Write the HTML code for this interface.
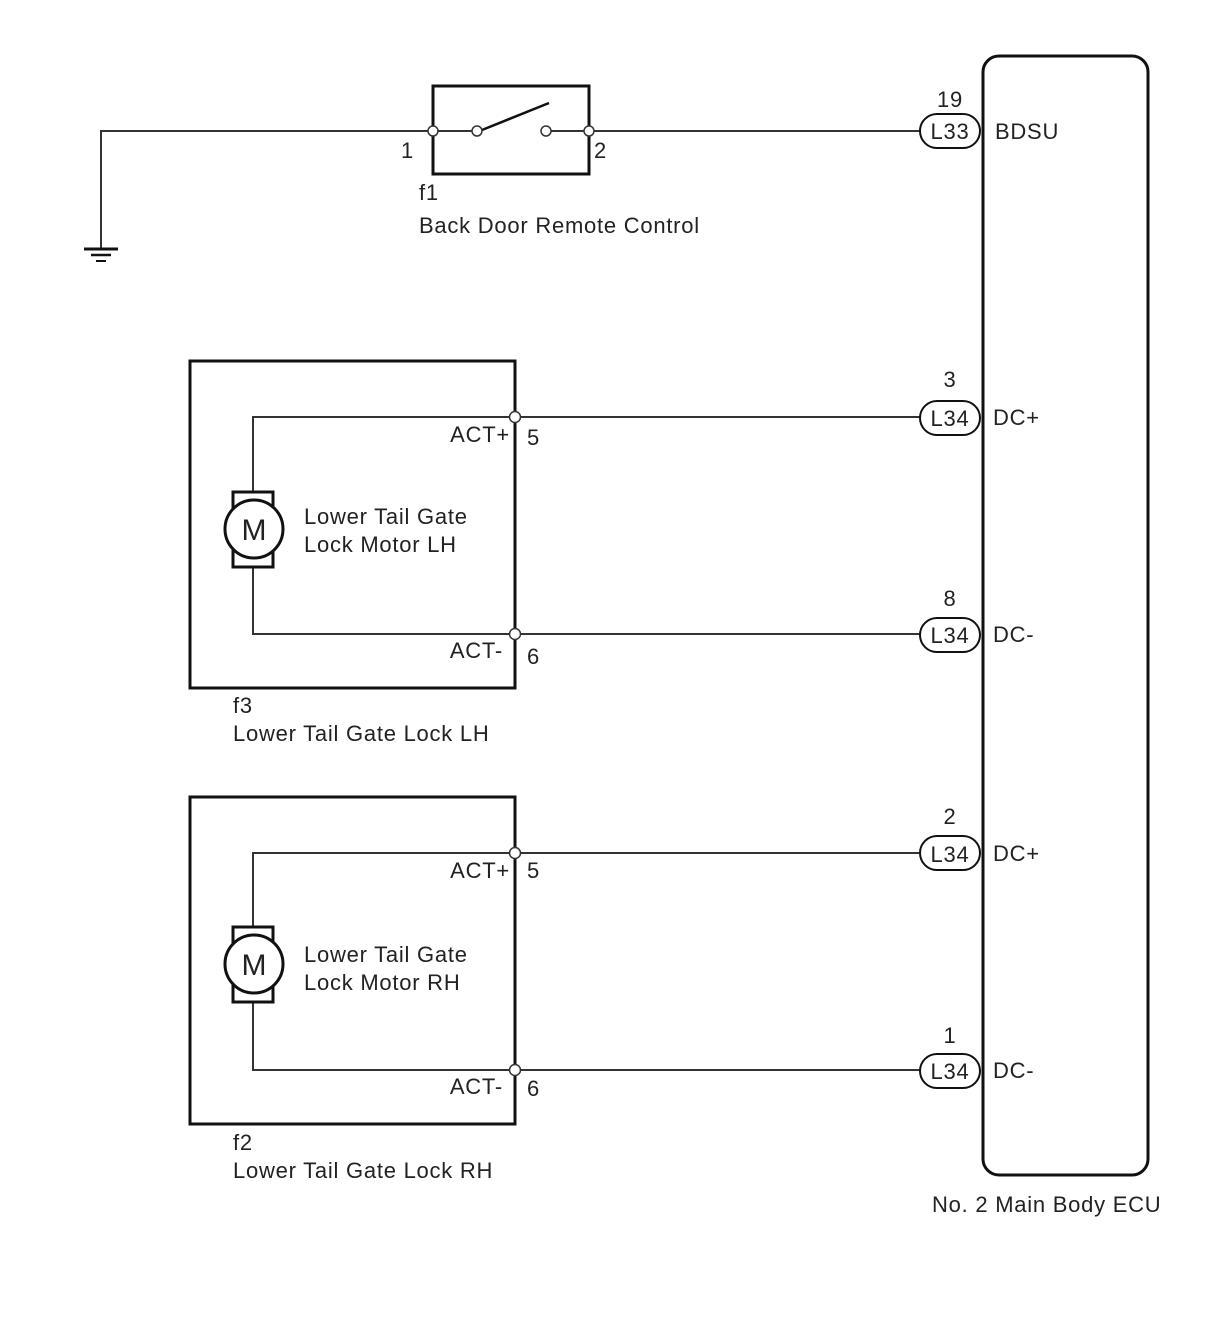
<!DOCTYPE html>
<html><head><meta charset="utf-8"><style>
html,body{margin:0;padding:0;background:#fff;}
svg{display:block}
text{font-family:"Liberation Sans",Arial,sans-serif;font-size:22px;letter-spacing:0.75px;fill:#222}
</style></head><body>
<svg width="1210" height="1328" viewBox="0 0 1210 1328" xmlns="http://www.w3.org/2000/svg">
<g stroke="#333" fill="none" stroke-width="2">
<polyline points="433,131 101,131 101,248"/>
<line x1="84" y1="249" x2="118" y2="249" stroke-width="3" stroke="#111"/>
<line x1="91" y1="255" x2="111" y2="255" stroke-width="2.5" stroke="#111"/>
<line x1="96" y1="261" x2="106" y2="261" stroke-width="2" stroke="#111"/>
<rect x="433" y="86" width="156" height="88" stroke-width="3" stroke="#111"/>
<line x1="433" y1="131" x2="477" y2="131"/>
<line x1="482" y1="130" x2="549" y2="103" stroke-width="2.5" stroke="#111"/>
<line x1="550" y1="131" x2="589" y2="131"/>
<line x1="589" y1="131" x2="920" y2="131"/>
<rect x="983" y="56" width="165" height="1119" rx="16" stroke-width="3" stroke="#111"/>
<rect x="190" y="361" width="325" height="327" stroke-width="3" stroke="#111"/>
<polyline points="515,417 253,417 253,493"/>
<polyline points="515,634 253,634 253,566"/>
<line x1="515" y1="417" x2="920" y2="417"/>
<line x1="515" y1="634" x2="920" y2="634"/>
<rect x="233" y="492" width="40" height="75" stroke-width="3" stroke="#111"/>
<circle cx="254" cy="529" r="29" fill="#fff" stroke-width="3" stroke="#111"/>
<rect x="190" y="797" width="325" height="327" stroke-width="3" stroke="#111"/>
<polyline points="515,853 253,853 253,928"/>
<polyline points="515,1070 253,1070 253,1002"/>
<line x1="515" y1="853" x2="920" y2="853"/>
<line x1="515" y1="1070" x2="920" y2="1070"/>
<rect x="233" y="927" width="40" height="75" stroke-width="3" stroke="#111"/>
<circle cx="254" cy="964" r="29" fill="#fff" stroke-width="3" stroke="#111"/>
<rect x="920" y="114" width="60" height="34" rx="17" fill="#fff" stroke="#111"/>
<rect x="920" y="401" width="60" height="34" rx="17" fill="#fff" stroke="#111"/>
<rect x="920" y="618" width="60" height="34" rx="17" fill="#fff" stroke="#111"/>
<rect x="920" y="836" width="60" height="34" rx="17" fill="#fff" stroke="#111"/>
<rect x="920" y="1054" width="60" height="34" rx="17" fill="#fff" stroke="#111"/>
<g fill="#fff" stroke="#333" stroke-width="1.5">
<circle cx="433" cy="131" r="5"/><circle cx="589" cy="131" r="5"/>
<circle cx="477" cy="131" r="5"/><circle cx="546" cy="131" r="5"/>
<circle cx="515" cy="417" r="5.5"/><circle cx="515" cy="634" r="5.5"/>
<circle cx="515" cy="853" r="5.5"/><circle cx="515" cy="1070" r="5.5"/>
</g>
</g>
<text x="254" y="540" text-anchor="middle" style="font-size:30px;letter-spacing:0">M</text>
<text x="254" y="975" text-anchor="middle" style="font-size:30px;letter-spacing:0">M</text>
<text x="401" y="158">1</text><text x="594" y="158">2</text>
<text x="419" y="200">f1</text>
<text x="419" y="233">Back Door Remote Control</text>
<text x="950" y="139" text-anchor="middle">L33</text>
<text x="950" y="107" text-anchor="middle">19</text>
<text x="995" y="139">BDSU</text>
<text x="950" y="426" text-anchor="middle">L34</text>
<text x="950" y="387" text-anchor="middle">3</text>
<text x="993" y="425">DC+</text>
<text x="950" y="643" text-anchor="middle">L34</text>
<text x="950" y="606" text-anchor="middle">8</text>
<text x="993" y="642">DC-</text>
<text x="950" y="862" text-anchor="middle">L34</text>
<text x="950" y="824" text-anchor="middle">2</text>
<text x="993" y="861">DC+</text>
<text x="950" y="1079" text-anchor="middle">L34</text>
<text x="950" y="1043" text-anchor="middle">1</text>
<text x="993" y="1078">DC-</text>
<text x="510" y="442" text-anchor="end">ACT+</text><text x="527" y="445">5</text>
<text x="503" y="658" text-anchor="end">ACT-</text><text x="527" y="664">6</text>
<text x="510" y="878" text-anchor="end">ACT+</text><text x="527" y="878">5</text>
<text x="503" y="1094" text-anchor="end">ACT-</text><text x="527" y="1096">6</text>
<text x="304" y="524">Lower Tail Gate</text>
<text x="304" y="552">Lock Motor LH</text>
<text x="304" y="962">Lower Tail Gate</text>
<text x="304" y="990">Lock Motor RH</text>
<text x="233" y="713">f3</text>
<text x="233" y="741">Lower Tail Gate Lock LH</text>
<text x="233" y="1150">f2</text>
<text x="233" y="1178">Lower Tail Gate Lock RH</text>
<text x="932" y="1212">No. 2 Main Body ECU</text>
</svg>
</body></html>
